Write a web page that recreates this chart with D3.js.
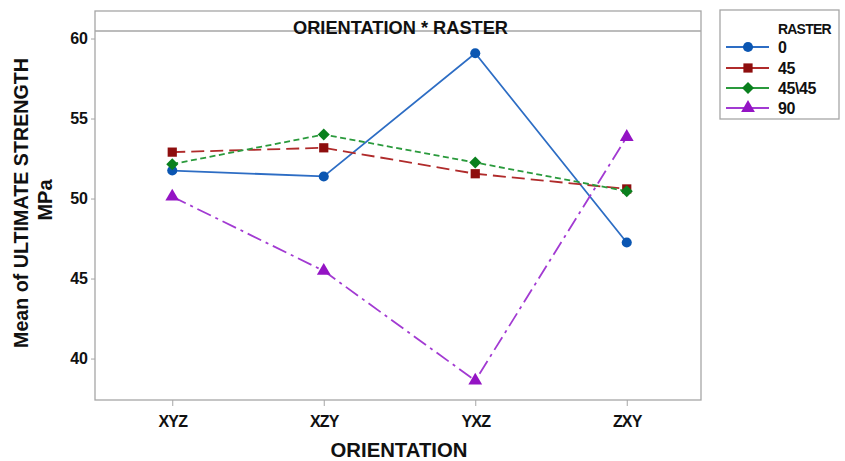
<!DOCTYPE html>
<html>
<head>
<meta charset="utf-8">
<script src="https://cdn.jsdelivr.net/npm/d3@7"></script>
<style>
  html, body { margin: 0; padding: 0; background: #fff; }
  svg { display: block; }
  text { font-family: "Liberation Sans", Arial, sans-serif; fill: #111; }
</style>
</head>
<body>
<svg id="chart" width="845" height="461"></svg>
<script>
// Interaction plot: mean ultimate strength by orientation, one line per raster angle
const orientations = ["XYZ", "XZY", "YXZ", "ZXY"];
const rasters = ["0", "45", "45\\45", "90"];
const raster0 = [51.75, 51.38, 59.08, 47.25];
const raster45 = [52.9, 53.17, 51.55, 50.6];
const raster4545 = [52.15, 54.0, 52.25, 50.46];
const raster90 = [50.12, 45.48, 38.62, 53.85];
const yTicks = [40, 45, 50, 55, 60];

const seriesValues = [raster0, raster45, raster4545, raster90];
const lineColors = ["#2d6dc4", "#b02b2b", "#2a9a3c", "#a23ad2"];
const markColors = ["#0b56b2", "#8e0e0e", "#0a801e", "#9414c4"];
const dashes = ["none", "13,6", "6,3.5", "15,5,3,5"];
// diamond drawn as a square turned 45 degrees
const shapes = [d3.symbolCircle, d3.symbolSquare, d3.symbolSquare, d3.symbolTriangle];
const shapeSizes = [80, 85, 72, 82];
const shapeRotate = [0, 0, 45, 0];

const svg = d3.select("#chart");
const box = { x0: 95, x1: 701, y0: 11, band: 31, y1: 400 };

const x = d3.scalePoint().domain(orientations).range([box.x0 + 1.5, box.x1 + 1.5]).padding(0.5);
const y = d3.scaleLinear().domain([37.41, 60.47]).range([box.y1, box.band]);

// Frame and title band
svg.append("rect")
  .attr("x", box.x0).attr("y", box.y0)
  .attr("width", box.x1 - box.x0).attr("height", box.y1 - box.y0)
  .attr("fill", "none").attr("stroke", "#a6a6a6").attr("stroke-width", 1.3);
svg.append("line")
  .attr("x1", box.x0).attr("x2", box.x1).attr("y1", box.band).attr("y2", box.band)
  .attr("stroke", "#a6a6a6").attr("stroke-width", 1.3);
svg.append("text")
  .attr("x", 400.5).attr("y", 34)
  .attr("text-anchor", "middle")
  .attr("font-size", 18).attr("font-weight", "bold")
  .attr("textLength", 215).attr("lengthAdjust", "spacingAndGlyphs")
  .text("ORIENTATION * RASTER");

// Y axis
const yAxis = svg.append("g")
  .attr("transform", `translate(${box.x0},0)`)
  .call(d3.axisLeft(y).tickValues(yTicks).tickSize(4).tickPadding(3).tickFormat(d3.format("d")));
yAxis.select(".domain").remove();
yAxis.selectAll(".tick line").attr("stroke", "#a6a6a6");
yAxis.selectAll(".tick text")
  .attr("font-size", 16).attr("font-weight", 600)
  .attr("font-family", "Liberation Sans, Arial, sans-serif").attr("fill", "#222");

// X axis
const xAxis = svg.append("g")
  .attr("transform", `translate(0,${box.y1})`)
  .call(d3.axisBottom(x).tickSize(6).tickPadding(10));
xAxis.select(".domain").remove();
xAxis.selectAll(".tick line").attr("stroke", "#a6a6a6");
xAxis.selectAll(".tick text")
  .attr("font-size", 16).attr("font-weight", "bold")
  .attr("font-family", "Liberation Sans, Arial, sans-serif").attr("fill", "#111")
  .attr("letter-spacing", -0.8);

// Axis titles
svg.append("text")
  .attr("x", 399).attr("y", 457)
  .attr("text-anchor", "middle")
  .attr("font-size", 21).attr("font-weight", "bold")
  .attr("textLength", 137).attr("lengthAdjust", "spacingAndGlyphs")
  .text("ORIENTATION");
svg.append("text")
  .attr("transform", "translate(28,203) rotate(-90)")
  .attr("text-anchor", "middle")
  .attr("font-size", 20).attr("font-weight", "bold")
  .attr("textLength", 290).attr("lengthAdjust", "spacingAndGlyphs")
  .text("Mean of ULTIMATE STRENGTH");
svg.append("text")
  .attr("transform", "translate(52,200) rotate(-90)")
  .attr("text-anchor", "middle")
  .attr("font-size", 20).attr("font-weight", "bold")
  .text("MPa");

// Lines and markers
const line = d3.line().x((d, i) => x(orientations[i])).y(d => y(d));
const plot = svg.append("g");
seriesValues.forEach((vals, s) => {
  plot.append("path")
    .datum(vals)
    .attr("d", line)
    .attr("fill", "none")
    .attr("stroke", lineColors[s])
    .attr("stroke-width", 1.8)
    .attr("stroke-dasharray", dashes[s]);
});
seriesValues.forEach((vals, s) => {
  plot.selectAll(null)
    .data(vals)
    .join("path")
    .attr("transform", (d, i) => `translate(${x(orientations[i])},${y(d)}) rotate(${shapeRotate[s]})`)
    .attr("d", d3.symbol().type(shapes[s]).size(shapeSizes[s]))
    .attr("fill", markColors[s]);
});

// Legend
const lg = svg.append("g");
lg.append("rect")
  .attr("x", 720).attr("y", 10).attr("width", 119).attr("height", 109)
  .attr("fill", "none").attr("stroke", "#a6a6a6").attr("stroke-width", 1.3);
lg.append("text")
  .attr("x", 778).attr("y", 34)
  .attr("font-size", 14).attr("font-weight", "bold")
  .attr("letter-spacing", -0.8)
  .text("RASTER");
const legendY = [47, 68, 88, 108];
rasters.forEach((r, s) => {
  const yy = legendY[s];
  lg.append("line")
    .attr("x1", 726).attr("x2", 769).attr("y1", yy).attr("y2", yy)
    .attr("stroke", lineColors[s]).attr("stroke-width", 1.8);
  lg.append("path")
    .attr("transform", `translate(748,${yy}) rotate(${shapeRotate[s]})`)
    .attr("d", d3.symbol().type(shapes[s]).size(shapeSizes[s]))
    .attr("fill", markColors[s]);
  lg.append("text")
    .attr("x", 778).attr("y", yy + 6)
    .attr("font-size", 16).attr("font-weight", "bold")
    .attr("letter-spacing", -0.4)
    .text(r);
});
</script>
</body>
</html>
